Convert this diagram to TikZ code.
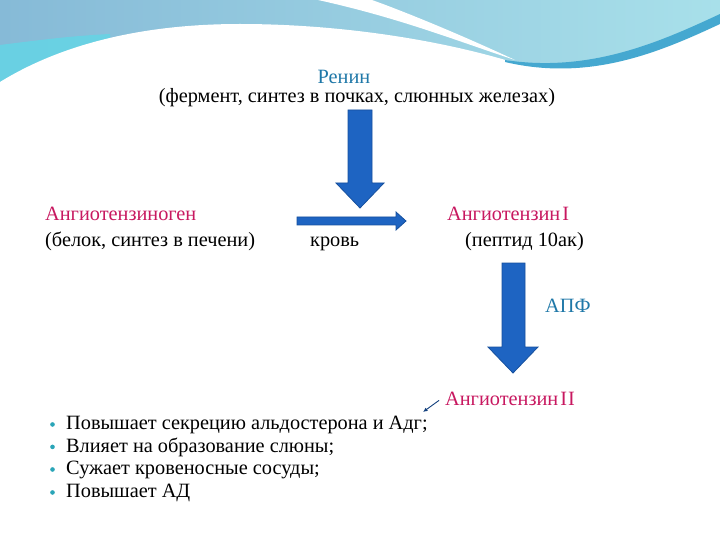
\documentclass[tikz,border=0pt]{standalone}
\usepackage{fontspec}
\setmainfont{Liberation Serif}
\usepackage{tikz}
\usetikzlibrary{arrows.meta,positioning}
\definecolor{reninblue}{HTML}{1F78A8}
\definecolor{hormred}{HTML}{C81860}
\definecolor{arrowfill}{HTML}{1E64C2}
\definecolor{arrowline}{HTML}{16509E}
\definecolor{dotteal}{HTML}{2AA5B8}
\definecolor{waveblue}{HTML}{86BAD7}
\definecolor{wavelight}{HTML}{A8E0EA}
\definecolor{waveturq}{HTML}{62D6E6}
\definecolor{wavestripe}{HTML}{45A8D0}
\tikzset{
    slidetext/.style={
        font=\fontsize{20.3}{24}\selectfont,
        inner sep=0pt,
        anchor=base west
    },
    bluetext/.style={
        slidetext,
        text=reninblue
    },
    redtext/.style={
        slidetext,
        text=hormred
    },
    bigarrow/.style={
        fill=arrowfill,
        draw=arrowline,
        line width=0.8pt,
        line join=miter
    },
    pointer/.style={
        -{Latex[length=1.6mm,width=1.4mm]},
        draw=arrowline!80!black,
        line width=0.9pt
    },
    bulletdot/.style={
        circle,
        fill=dotteal,
        inner sep=0pt,
        minimum size=4.6pt
    }
}

\begin{document}
\begin{tikzpicture}[x=1pt,y=-1pt]
        \useasboundingbox (0,0) rectangle (720,540);
        \fill[white] (0,0) rectangle (720,540);

        % slide header wave
        \shade[left color=waveblue, right color=wavelight]
            (0,0) rectangle (720,100);
        \fill[waveturq, opacity=0.8] (0,45) .. controls (40,40) and (70,36) .. (110,34)
            -- (110,44) .. controls (60,50) and (25,65) .. (0,84) -- cycle;
        \fill[white] (0,82) .. controls (60,45) and (140,24) .. (240,24)
            .. controls (340,24) and (440,40) .. (512,62)
            .. controls (590,80) and (660,48) .. (720,22)
            -- (720,540) -- (0,540) -- cycle;
        \fill[wavestripe] (505,60) .. controls (590,73) and (660,42) .. (720,14)
            -- (720,24) .. controls (660,52) and (590,82) .. (505,62) -- cycle;
        \fill[white] (318,0) .. controls (400,18) and (460,42) .. (515,60)
            .. controls (455,32) and (400,10) .. (372,0) -- cycle;

        % texts
        \node[bluetext, anchor=base] (renin) at (344,84) {Ренин};
        \node[slidetext, anchor=base] (renininfo) at (357,103) {(фермент, синтез в почках, слюнных железах)};

        \node[redtext] (agen) at (45,221) {Ангиотензиноген};
        \node[slidetext] (ageninfo) at (45,246) {(белок, синтез в печени)};

        \node[slidetext] (blood) at (310,247) {кровь};

        \node[redtext] (angI) at (447,221) {Ангиотензин\kern2pt I};
        \node[slidetext] (angIinfo) at (465,246) {(пептид 10ак)};

        \node[bluetext] (ace) at (545,312) {АПФ};

        \node[redtext] (angII) at (445,405) {Ангиотензин\kern2pt I\kern1pt I};

        \node[slidetext] (eff1) at (66,429) {Повышает секрецию альдостерона и Адг;};
        \node[slidetext] (eff2) at (66,452) {Влияет на образование слюны;};
        \node[slidetext] (eff3) at (66,474) {Сужает кровеносные сосуды;};
        \node[slidetext] (eff4) at (66,497) {Повышает АД};

        \foreach \i in {1,...,4}
            \node[bulletdot, left=11pt of eff\i.west] (dot\i) {};

        % block arrows
        \filldraw[bigarrow] (348,110) -- (372,110) -- (372,183) -- (384,183)
            -- (360,208) -- (336,183) -- (348,183) -- cycle;
        \filldraw[bigarrow] (297,217) -- (396,217) -- (396,212) -- (406,221)
            -- (396,230) -- (396,225) -- (297,225) -- cycle;
        \filldraw[bigarrow] (502,263) -- (525,263) -- (525,347) -- (538,347)
            -- (513,373) -- (488,347) -- (502,347) -- cycle;

        \coordinate (effend) at (423,412);
        \draw[pointer] ([xshift=-6pt,yshift=-2pt]angII.west) -- (effend);
    \end{tikzpicture}
\end{document}
